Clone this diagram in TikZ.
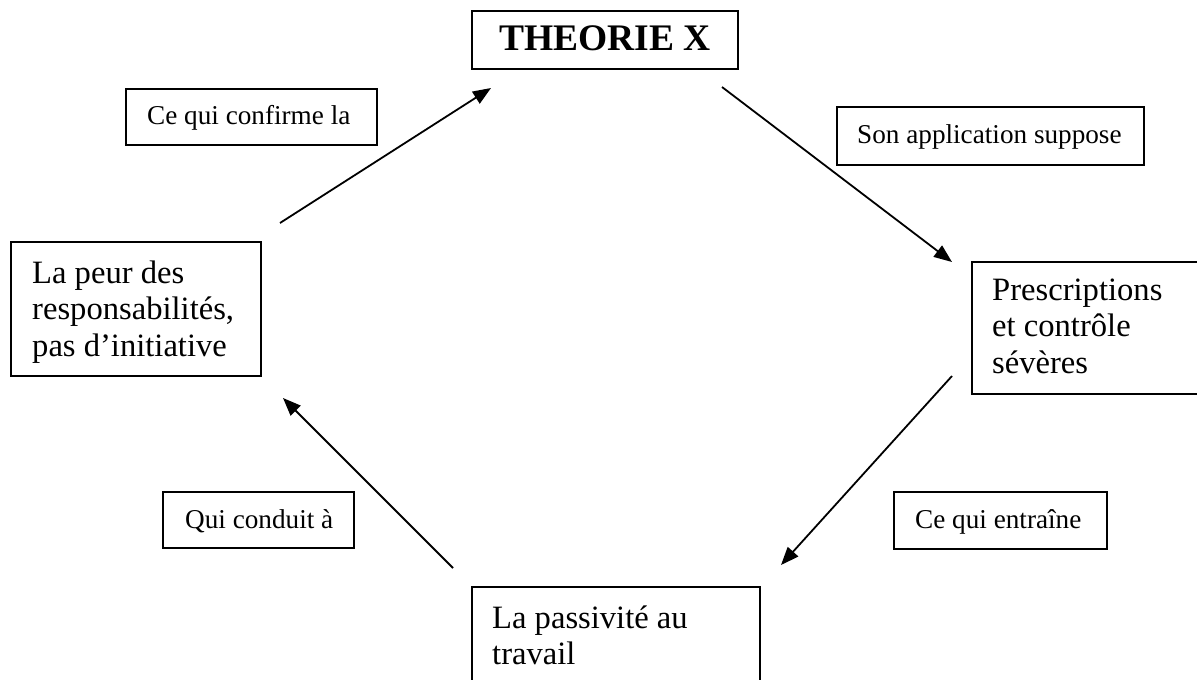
\documentclass[tikz,border=0pt]{standalone}
\usepackage{fontspec}
\setmainfont{Liberation Serif}
\usetikzlibrary{arrows.meta}
\newcommand{\linesleft}[1]{\begin{tabular}[t]{@{}l@{}}#1\end{tabular}}

\begin{document}
\begin{tikzpicture}[x=1pt,y=-1pt,
  boxframe/.style={draw=black, line width=1.8pt, inner sep=0pt, outer sep=0pt, anchor=north west},
  bigtxt/.style={font=\fontsize{32.6}{36.8}\selectfont, inner sep=0pt, anchor=base west},
  smalltxt/.style={font=\fontsize{27.2}{31}\selectfont, inner sep=0pt, anchor=base west},
  titletxt/.style={font=\fontsize{37.5}{42}\selectfont\bfseries, inner sep=0pt, anchor=base},
  link/.style={line width=1.8pt, -{Triangle[length=18pt,width=14pt]}}]
\clip (0,0) rectangle (1197,680);
\fill[white] (0,0) rectangle (1197,680);

% main boxes of the cycle
\node[boxframe, minimum width=266, minimum height=58] (theorie) at (472,11) {};
\node[titletxt] (theorie-txt) at (605,50) {THEORIE X};

\node[boxframe, minimum width=250, minimum height=134] (peur) at (11,242) {};
\node[bigtxt] (peur-txt) at (32,283) {\linesleft{La peur des\\responsabilités,\\pas d’initiative}};

\node[boxframe, minimum width=240, minimum height=132] (prescr) at (972,262) {};
\node[bigtxt] (prescr-txt) at (992,300) {\linesleft{Prescriptions\\et contrôle\\sévères}};

\node[boxframe, minimum width=288, minimum height=110] (passiv) at (472,587) {};
\node[bigtxt] (passiv-txt) at (492,628) {\linesleft{La passivité au\\travail}};

% link labels
\node[boxframe, minimum width=251, minimum height=56] (confirme) at (126,89) {};
\node[smalltxt] (confirme-txt) at (147,124) {Ce qui confirme la};

\node[boxframe, minimum width=307, minimum height=58] (suppose) at (837,107) {};
\node[smalltxt] (suppose-txt) at (857,143) {Son application suppose};

\node[boxframe, minimum width=191, minimum height=56] (conduit) at (163,492) {};
\node[smalltxt] (conduit-txt) at (185,528) {Qui conduit à};

\node[boxframe, minimum width=213, minimum height=57] (entraine) at (894,492) {};
\node[smalltxt] (entraine-txt) at (915,528) {Ce qui entraîne};

% free ends of the arrows
\coordinate (peur-out) at (280,223);
\coordinate (theorie-in) at (491,88);
\coordinate (theorie-out) at (722,87);
\coordinate (prescr-in) at (952,262);
\coordinate (prescr-out) at (952,376);
\coordinate (passiv-in) at (781,565);
\coordinate (passiv-out) at (453,568);
\coordinate (peur-in) at (283,398);

\draw[link] (peur-out) -- (theorie-in);
\draw[link] (theorie-out) -- (prescr-in);
\draw[link] (prescr-out) -- (passiv-in);
\draw[link] (passiv-out) -- (peur-in);
\end{tikzpicture}
\end{document}
